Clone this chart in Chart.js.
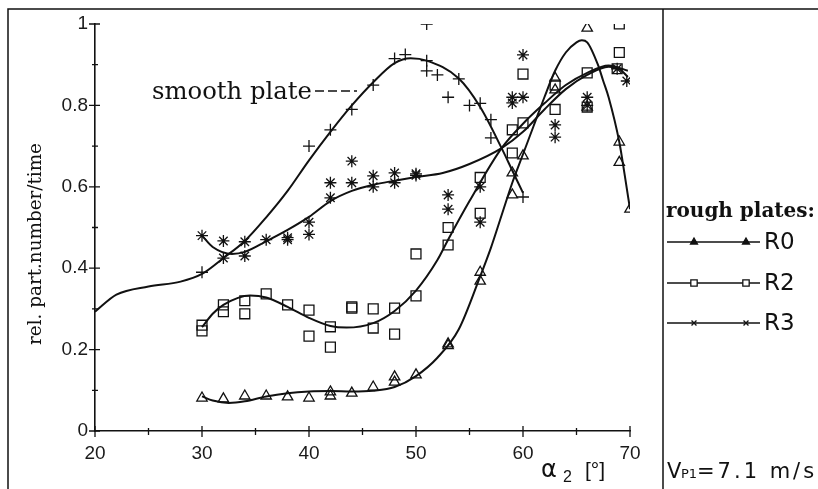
<!DOCTYPE html>
<html>
<head>
<meta charset="utf-8">
<script src="https://cdn.jsdelivr.net/npm/chart.js@4/dist/chart.umd.min.js"></script>
<style>
  html, body { margin: 0; padding: 0; background: #fff; }
  #wrap { width: 818px; height: 489px; }
</style>
</head>
<body>
<div id="wrap"><canvas id="chart" width="818" height="489"></canvas></div>
<script>
// tick labels
const xTickLabels = ['20', '30', '40', '50', '60', '70'];
const yTickLabels = ['0', '0.2', '0.4', '0.6', '0.8', '1'];

// measured points - smooth plate (+)
const smoothX = [30, 40, 42, 44, 46, 48, 49, 51, 51, 51, 52, 53, 54, 55, 56, 57, 57, 60];
const smoothY = [0.39, 0.70, 0.74, 0.79, 0.85, 0.915, 0.925, 1.0, 0.91, 0.885, 0.875, 0.82, 0.865, 0.80, 0.805, 0.765, 0.72, 0.575];

// rough plate R0 (triangles)
const r0X = [30, 32, 34, 36, 38, 40, 42, 42, 44, 46, 48, 48, 50, 53, 53, 56, 56, 59, 59, 60, 63, 63, 66, 66, 69, 69, 70];
const r0Y = [0.081, 0.079, 0.086, 0.086, 0.084, 0.081, 0.096, 0.086, 0.093, 0.108, 0.133, 0.12, 0.138, 0.214, 0.21, 0.39, 0.368, 0.58, 0.634, 0.676, 0.867, 0.838, 0.99, 0.796, 0.71, 0.66, 0.545];

// rough plate R2 (squares)
const r2X = [30, 30, 32, 32, 34, 34, 36, 38, 40, 40, 42, 42, 44, 44, 46, 46, 48, 48, 50, 50, 53, 53, 56, 56, 59, 59, 60, 60, 63, 63, 66, 66, 69, 69, 68.8];
const r2Y = [0.26, 0.246, 0.31, 0.293, 0.32, 0.288, 0.337, 0.31, 0.297, 0.233, 0.256, 0.206, 0.302, 0.305, 0.30, 0.253, 0.302, 0.238, 0.435, 0.332, 0.50, 0.457, 0.623, 0.535, 0.74, 0.683, 0.757, 0.877, 0.85, 0.79, 0.796, 0.88, 0.93, 1.0, 0.89];

// rough plate R3 (asterisks)
const r3X = [30, 32, 32, 34, 34, 36, 38, 38, 40, 40, 42, 42, 44, 44, 46, 46, 48, 48, 50, 50, 53, 53, 56, 56, 59, 59, 60, 60, 63, 63, 66, 66, 68.8, 69.7];
const r3Y = [0.48, 0.467, 0.425, 0.465, 0.43, 0.47, 0.47, 0.475, 0.513, 0.483, 0.61, 0.573, 0.663, 0.61, 0.627, 0.60, 0.634, 0.61, 0.632, 0.628, 0.58, 0.545, 0.60, 0.513, 0.82, 0.806, 0.82, 0.924, 0.752, 0.722, 0.82, 0.80, 0.89, 0.86];

// fitted curves
const smoothFitX = [20, 22, 25, 28, 30, 32, 34, 36, 38, 40, 42, 44, 46, 48, 49.5, 51, 54, 56, 58, 59, 60];
const smoothFitY = [0.293, 0.335, 0.355, 0.367, 0.386, 0.425, 0.467, 0.525, 0.59, 0.665, 0.735, 0.80, 0.857, 0.904, 0.916, 0.91, 0.866, 0.796, 0.695, 0.64, 0.585];

const r0FitX = [30, 31, 32.5, 34, 36, 38, 40, 42, 44, 46, 48, 50, 52, 54, 56, 57, 58, 59, 60, 61, 62, 63, 64, 65, 65.5, 66, 67, 67.5, 68, 69, 69.5, 70];
const r0FitY = [0.085, 0.075, 0.069, 0.073, 0.085, 0.093, 0.097, 0.098, 0.097, 0.099, 0.108, 0.135, 0.18, 0.25, 0.38, 0.45, 0.53, 0.61, 0.68, 0.75, 0.82, 0.885, 0.93, 0.955, 0.96, 0.955, 0.90, 0.86, 0.82, 0.71, 0.63, 0.545];

const r2FitX = [30, 31, 32, 34.5, 36, 38, 40, 42, 43.5, 46, 48, 50, 52, 53, 55, 58, 60, 62, 64, 66, 68, 69.8];
const r2FitY = [0.255, 0.288, 0.31, 0.333, 0.328, 0.305, 0.278, 0.258, 0.254, 0.265, 0.295, 0.345, 0.42, 0.47, 0.565, 0.695, 0.755, 0.805, 0.85, 0.88, 0.898, 0.885];

const r3FitX = [30, 31, 32.8, 34, 36, 38, 40, 42, 44, 46, 48, 50, 52.5, 55, 58, 60, 62, 64, 66, 68, 69, 69.8];
const r3FitY = [0.48, 0.452, 0.435, 0.44, 0.466, 0.494, 0.526, 0.565, 0.59, 0.605, 0.615, 0.624, 0.634, 0.656, 0.695, 0.735, 0.79, 0.84, 0.875, 0.895, 0.89, 0.87];

const legendNames = ['R0', 'R2', 'R3'];

function pts(xs, ys) {
    return xs.map((x, i) => ({ x: x, y: ys[i] }));
}

const ink = '#111';

function fitLine(xs, ys) {
    return {
        data: pts(xs, ys),
        showLine: true,
        pointRadius: 0,
        borderColor: ink,
        borderWidth: 2,
        cubicInterpolationMode: 'monotone',
        fill: false
    };
}

function markers(xs, ys, style, radius) {
    return {
        data: pts(xs, ys),
        showLine: false,
        pointStyle: style,
        pointRadius: radius,
        pointBorderColor: ink,
        pointBackgroundColor: 'rgba(0,0,0,0)',
        pointBorderWidth: 1.3,
        clip: 0
    };
}

function fitFont(ctx, text, family, weight, targetW) {
    ctx.font = weight + ' 100px ' + family;
    return 100 * targetW / ctx.measureText(text).width;
}

const decorations = {
    id: 'decorations',
    afterDraw(chart) {
        const ctx = chart.ctx;
        const xs = chart.scales.x, ys = chart.scales.y;
        const left = chart.chartArea.left, bottom = chart.chartArea.bottom;
        ctx.save();
        ctx.strokeStyle = ink;
        ctx.fillStyle = ink;

        // frame of the figure
        ctx.lineWidth = 1.5;
        ctx.beginPath();
        ctx.moveTo(8, 489); ctx.lineTo(8, 9); ctx.lineTo(818, 9);
        ctx.moveTo(663, 9); ctx.lineTo(663, 489);
        ctx.stroke();

        // tick marks crossing the axes
        ctx.lineWidth = 1.3;
        ctx.beginPath();
        for (let i = 0; i <= 10; i++) {
            const py = ys.getPixelForValue(i / 10);
            const major = i % 2 === 0;
            ctx.moveTo(left - (major ? 6 : 3), py);
            ctx.lineTo(left + (major ? 5 : 3), py);
        }
        for (let v = 20; v <= 70; v += 5) {
            const px = xs.getPixelForValue(v);
            const major = v % 10 === 0;
            ctx.moveTo(px, bottom - (major ? 5 : 3));
            ctx.lineTo(px, bottom + (major ? 6 : 4));
        }
        ctx.stroke();

        // y title
        const ytitle = 'rel. part.number/time';
        const ysz = fitFont(ctx, ytitle, '"DejaVu Serif"', 'normal', 202);
        ctx.save();
        ctx.translate(36, 244);
        ctx.rotate(-Math.PI / 2);
        ctx.font = ysz + 'px "DejaVu Serif"';
        ctx.textAlign = 'center';
        ctx.textBaseline = 'middle';
        ctx.fillText(ytitle, 0, 0);
        ctx.restore();

        // x title: alpha_2 [deg]
        ctx.textAlign = 'left';
        ctx.textBaseline = 'alphabetic';
        ctx.font = '24px "DejaVu Sans"';
        ctx.fillText('\u03b1', 541, 477);
        ctx.font = '16px "Liberation Sans"';
        ctx.fillText('2', 563, 482);
        ctx.font = '21px "Liberation Sans"';
        ctx.fillText('[\u00b0]', 585, 477);

        // smooth plate annotation
        const st = 'smooth plate';
        const ssz = fitFont(ctx, st, '"DejaVu Serif"', 'normal', 160);
        ctx.font = ssz + 'px "DejaVu Serif"';
        ctx.fillText(st, 152, 99);
        ctx.lineWidth = 1.6;
        ctx.setLineDash([9, 4]);
        ctx.beginPath();
        ctx.moveTo(315, 91);
        ctx.lineTo(357, 91);
        ctx.stroke();
        ctx.setLineDash([]);

        // legend panel
        const lt = 'rough plates:';
        const lsz = fitFont(ctx, lt, '"DejaVu Serif"', '600', 149);
        ctx.font = '600 ' + lsz + 'px "DejaVu Serif"';
        ctx.fillText(lt, 666, 217);
        const rows = [242, 283, 323];
        const styles = [
            { pointStyle: 'triangle', radius: 4, borderWidth: 1, fill: true },
            { pointStyle: 'rect', radius: 4.5, borderWidth: 1.2, fill: false },
            { pointStyle: 'crossRot', radius: 3.5, borderWidth: 1.2, fill: false }
        ];
        legendNames.forEach((name, i) => {
            const y = rows[i];
            ctx.lineWidth = 1.3;
            ctx.beginPath();
            ctx.moveTo(667, y);
            ctx.lineTo(760, y);
            ctx.stroke();
            [694, 746].forEach(mx => {
                ctx.fillStyle = styles[i].fill ? ink : '#fff';
                ctx.strokeStyle = ink;
                Chart.helpers.drawPoint(ctx, {
                    pointStyle: styles[i].pointStyle,
                    radius: styles[i].radius,
                    borderWidth: styles[i].borderWidth,
                    rotation: 0
                }, mx, y);
            });
            ctx.fillStyle = ink;
            ctx.font = '23px "DejaVu Sans"';
            ctx.textBaseline = 'middle';
            ctx.fillText(name, 764, y + 1);
            ctx.textBaseline = 'alphabetic';
        });

        // velocity note
        ctx.letterSpacing = '2px';
        ctx.font = '21px "DejaVu Sans"';
        ctx.fillText('V', 667, 478);
        ctx.font = '13px "DejaVu Sans"';
        ctx.letterSpacing = '0px';
        ctx.fillText('P1', 681, 478);
        ctx.letterSpacing = '3px';
        ctx.font = '21px "DejaVu Sans"';
        const vt = '=7.1 m/s';
        ctx.fillText(vt, 697, 478);
        ctx.letterSpacing = '0px';

        ctx.restore();
    }
};

const chart = new Chart(document.getElementById('chart'), {
    type: 'scatter',
    data: {
        datasets: [
            fitLine(smoothFitX, smoothFitY),
            fitLine(r0FitX, r0FitY),
            fitLine(r2FitX, r2FitY),
            fitLine(r3FitX, r3FitY),
            markers(smoothX, smoothY, 'cross', 6),
            markers(r0X, r0Y, 'triangle', 6),
            markers(r2X, r2Y, 'rect', 7),
            markers(r3X, r3Y, 'star', 6)
        ]
    },
    options: {
        responsive: false,
        animation: false,
        devicePixelRatio: 1,
        layout: { padding: { left: 8, right: 188, top: 24, bottom: 0 } },
        plugins: { legend: { display: false }, tooltip: { enabled: false } },
        scales: {
            x: {
                type: 'linear', min: 20, max: 70,
                afterFit: s => { s.height = 58; },
                grid: { display: false, drawTicks: false },
                border: { display: true, color: ink, width: 1.6 },
                ticks: {
                    stepSize: 10, padding: 11, color: '#1a1a1a',
                    font: { family: '"Liberation Sans"', size: 19 },
                    maxRotation: 0,
                    callback: (v, i) => xTickLabels[i]
                }
            },
            y: {
                type: 'linear', min: 0, max: 1,
                afterFit: s => { s.width = 87; },
                grid: { display: false, drawTicks: false },
                border: { display: true, color: ink, width: 1.6 },
                ticks: {
                    stepSize: 0.2, padding: 7, color: '#1a1a1a',
                    font: { family: '"Liberation Sans"', size: 19 },
                    callback: (v, i) => yTickLabels[i]
                }
            }
        }
    },
    plugins: [decorations]
});
</script>
</body>
</html>
